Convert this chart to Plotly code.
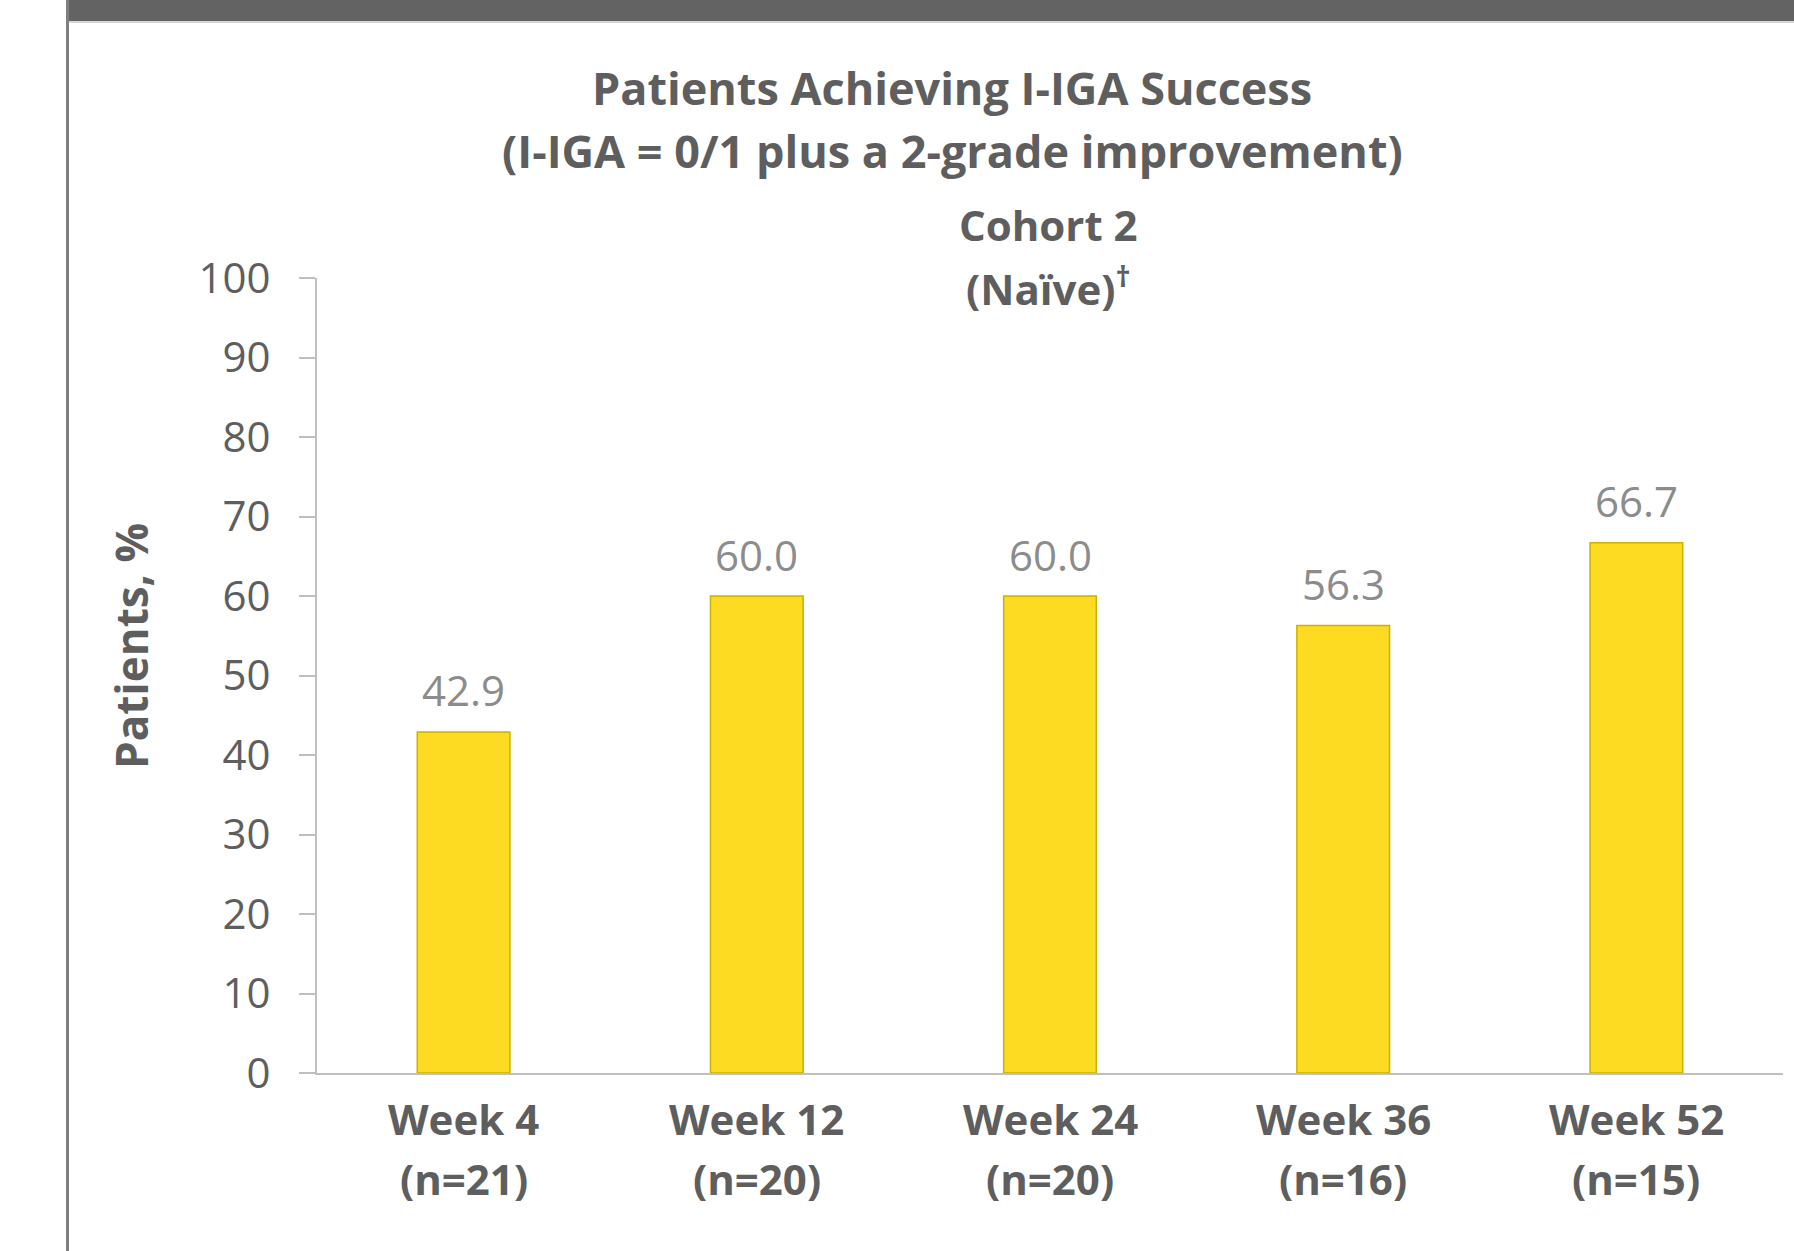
import plotly.graph_objects as go

# ---- data ----
weeks = ["Week 4", "Week 12", "Week 24", "Week 36", "Week 52"]
n_values = [21, 20, 20, 16, 15]
pct = [42.9, 60.0, 60.0, 56.3, 66.7]
y_tick_vals = [0, 10, 20, 30, 40, 50, 60, 70, 80, 90, 100]
title_lines = ["Patients Achieving I-IGA Success", "(I-IGA = 0/1 plus a 2-grade improvement)"]
subtitle_lines = ["Cohort 2", "(Naïve)<sup>†</sup>"]
y_title = "Patients, %"

# ---- layout geometry (pixels) ----
W, H = 1794, 1251
L, R, T, B = 317, 11, 278, 178
PW = W - L - R
PH = H - T - B

def px_x(p):
    return (p - L) / PW

def px_y(p):
    return (H - B - p) / PH

TEXT = "#5E5E5E"
AXIS = "#BFBFBF"
FONT = "Open Sans"

fig = go.Figure()
fig.add_trace(go.Bar(
    x=weeks, y=pct,
    marker=dict(color="#FDDB22", line=dict(color="#C9B300", width=1.5)),
    width=0.316,
    hoverinfo="skip",
))

annotations = []
# data labels
for w, v in zip(weeks, pct):
    annotations.append(dict(
        x=w, y=v, xref="x", yref="y", text=f"{v:.1f}", showarrow=False,
        yanchor="middle", yshift=42,
        font=dict(family=FONT, size=42, color="#8C8C8C"),
    ))
# category labels (two lines)
for w, n in zip(weeks, n_values):
    annotations.append(dict(
        x=w, y=px_y(1118), xref="x", yref="paper", text=f"<b>{w}</b>",
        showarrow=False, xanchor="center", yanchor="middle",
        font=dict(family=FONT, size=42, color=TEXT),
    ))
    annotations.append(dict(
        x=w, y=px_y(1178), xref="x", yref="paper", text=f"<b>(n={n})</b>",
        showarrow=False, xanchor="center", yanchor="middle",
        font=dict(family=FONT, size=42, color=TEXT),
    ))
# titles
for txt, yp in zip(title_lines, [87, 150]):
    annotations.append(dict(
        x=px_x(952), y=px_y(yp), xref="paper", yref="paper", text=f"<b>{txt}</b>",
        showarrow=False, xanchor="center", yanchor="middle",
        font=dict(family=FONT, size=45, color=TEXT),
    ))
for txt, yp in zip(subtitle_lines, [224, 286]):
    annotations.append(dict(
        x=px_x(1048), y=px_y(yp), xref="paper", yref="paper", text=f"<b>{txt}</b>",
        showarrow=False, xanchor="center", yanchor="middle",
        font=dict(family=FONT, size=42, color=TEXT),
    ))
# y axis title
annotations.append(dict(
    x=px_x(131), y=px_y(646), xref="paper", yref="paper", text=f"<b>{y_title}</b>",
    showarrow=False, xanchor="center", yanchor="middle", textangle=-90,
    font=dict(family=FONT, size=44, color=TEXT),
))

shapes = [
    # header band
    dict(type="rect", xref="paper", yref="paper",
         x0=px_x(67), x1=px_x(W + 5), y0=px_y(21), y1=px_y(-5),
         fillcolor="#636363", line=dict(width=0), layer="above"),
    dict(type="line", xref="paper", yref="paper",
         x0=px_x(67), x1=px_x(W + 5), y0=px_y(22), y1=px_y(22),
         line=dict(color="#C8C8C8", width=1.5)),
    # left frame line
    dict(type="line", xref="paper", yref="paper",
         x0=px_x(67.5), x1=px_x(67.5), y0=px_y(0), y1=px_y(H + 5),
         line=dict(color="#7F7F7F", width=3)),
]

fig.update_layout(
    width=W, height=H,
    margin=dict(l=L, r=R, t=T, b=B, pad=0),
    paper_bgcolor="white", plot_bgcolor="white",
    showlegend=False,
    bargap=0.684,
    font=dict(family=FONT, color=TEXT),
    annotations=annotations,
    shapes=shapes,
    xaxis=dict(
        type="category", categoryorder="array", categoryarray=weeks,
        showline=True, linecolor=AXIS, linewidth=2, ticks="",
        showgrid=False, zeroline=False, showticklabels=False,
    ),
    yaxis=dict(
        range=[0, 100], tickmode="array", tickvals=y_tick_vals,
        showline=True, linecolor=AXIS, linewidth=2,
        ticks="outside", ticklen=16, tickcolor=AXIS, tickwidth=2,
        showgrid=False, zeroline=False,
        tickfont=dict(family=FONT, size=42, color=TEXT),
        ticklabelstandoff=20,
    ),
)

fig.write_html(
    "out.html",
    config={"displayModeBar": False},
    post_script="document.body.style.margin='0';document.body.style.overflow='hidden';",
)
